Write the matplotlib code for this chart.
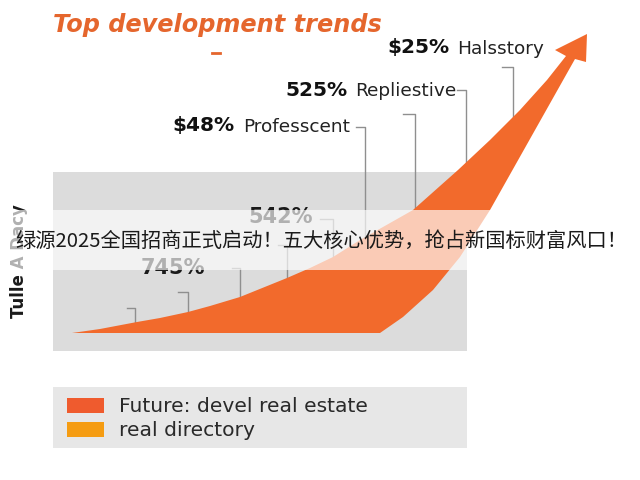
import matplotlib
matplotlib.use("Agg")
import matplotlib.pyplot as plt
from matplotlib.patches import Rectangle, Polygon

# ---------------- data ----------------
title = "Top development trends"
y_label = "Tulle A Dacy"
banner = "绿源2025全国招商正式启动！五大核心优势，抢占新国标财富风口！"

callout_values = ["$25%", "525%", "$48%"]
callout_names = ["Halsstory", "Repliestive", "Professcent"]
inner_values = ["542%", "745%"]

legend_labels = ["Future: devel real estate", "real directory"]
legend_colors = ["#ef5b2e", "#f59c12"]

# growth-arrow outline (trend curve, pixel space)
trend_upper_x = [72, 100, 137, 160, 188, 210, 240, 287, 310, 333, 360, 413, 458, 490, 520, 547, 566]
trend_upper_y = [333, 329, 322, 318, 312, 306, 297, 278, 268, 257, 240, 210, 170, 140, 110, 80, 56]
trend_head_x = [555, 587, 586]
trend_head_y = [50, 34, 62]
trend_right_x = [575, 490, 460, 433, 403, 380]
trend_right_y = [59, 210, 257, 290, 317, 333]

# leader lines: x, top, tick start, bottom
leader_x = [513, 466, 415, 365, 333, 287, 240, 188, 135]
leader_top = [67, 90, 114, 127, 219, 245, 268, 292, 308]
leader_tick = [502, 457, 403, 356, 320, 278, 232, 178, 127]
leader_bottom = [125, 170, 215, 245, 262, 282, 300, 315, 325]

# ---------------- layout ----------------
ORANGE = "#f26a2c"
fig = plt.figure(figsize=(6.4, 4.8), dpi=100)
ax = fig.add_axes([0, 0, 1, 1])
ax.set_xlim(0, 640)
ax.set_ylim(480, 0)
ax.axis("off")

LAT = ["DejaVu Sans"]

# title
ax.text(53, 25, title, fontsize=17.3, fontweight="bold", fontstyle="italic",
        color="#e5662d", ha="left", va="center", family=LAT)
ax.plot([212, 220], [53, 53], color="#e5662d", lw=2)

# gray panel
ax.add_patch(Rectangle((53, 172), 414, 179, fc="#dcdcdc", ec="none", zorder=0))

# leader lines
for x, t, tx, b in zip(leader_x, leader_top, leader_tick, leader_bottom):
    ax.plot([tx, x, x], [t, t, b], color="#8f8f8f", lw=1.0, zorder=1)

# arrow
pts = list(zip(trend_upper_x, trend_upper_y)) + list(zip(trend_head_x, trend_head_y)) \
    + list(zip(trend_right_x, trend_right_y))
ax.add_patch(Polygon(pts, closed=True, fc=ORANGE, ec="none", zorder=2))

# callout labels
value_x = [387, 285, 172]
name_x = [457, 355, 243]
row_y = [48, 90, 126]
for v, n, vx, nx, y in zip(callout_values, callout_names, value_x, name_x, row_y):
    ax.text(vx, y, v, fontsize=14.5, fontweight="bold", color="#111111",
            ha="left", va="center", family=LAT, zorder=3)
    ax.text(nx, y + 1, n, fontsize=13.3, color="#222222",
            ha="left", va="center", family=LAT, zorder=3)

inner_x = [248, 141]
inner_y = [217, 268]
for v, x, y in zip(inner_values, inner_x, inner_y):
    ax.text(x, y, v, fontsize=15, fontweight="bold", color="#1a1a1a",
            ha="left", va="center", family=LAT, zorder=3)

# y label
ax.text(19, 318, y_label, rotation=90, fontsize=12, fontweight="bold",
        color="#1a1a1a", ha="center", va="bottom", family=LAT, zorder=3)

# legend box
ax.add_patch(Rectangle((53, 387), 414, 61, fc="#e7e7e7", ec="none", zorder=0))
for i, (lab, col) in enumerate(zip(legend_labels, legend_colors)):
    yy = 398 + i * 24
    ax.add_patch(Rectangle((67, yy), 37, 15, fc=col, ec="none", zorder=1))
    ax.text(119, yy + 8, lab, fontsize=14.6, color="#2a2a2a", ha="left",
            va="center", family=LAT, zorder=2)

# watermark banner
ax.add_patch(Rectangle((8, 210), 624, 60, fc="white", ec="none", alpha=0.66, zorder=5))
ax.text(15, 241, banner, fontsize=14.6, color="#1a1a1a", ha="left", va="center",
        family=["Noto Sans CJK SC", "DejaVu Sans"], zorder=6)

fig.savefig("out.png", dpi=100)
